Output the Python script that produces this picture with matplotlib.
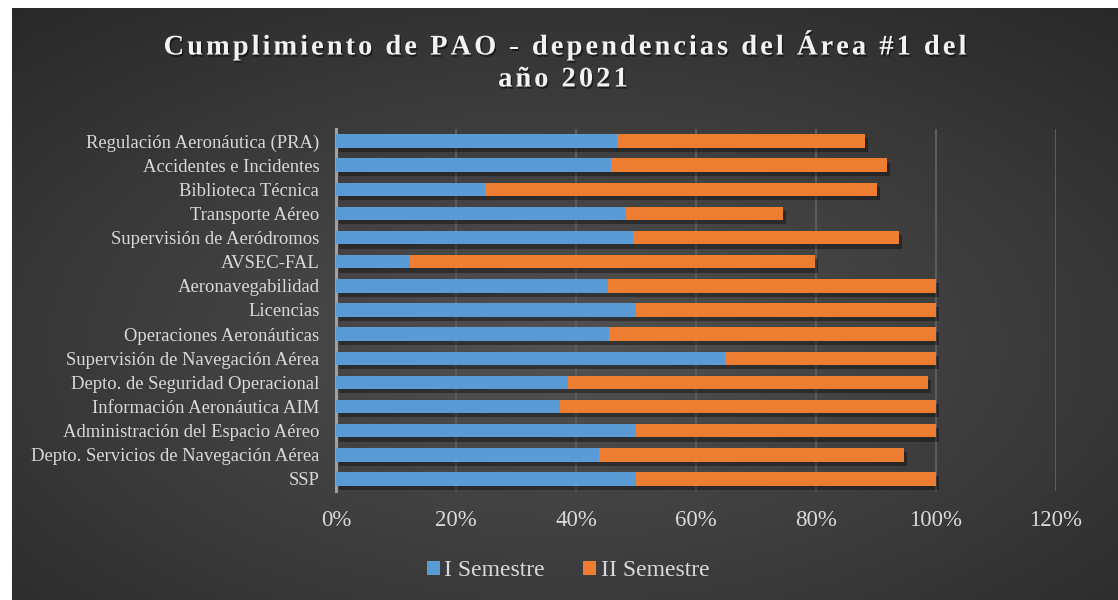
import numpy as np
import matplotlib.pyplot as plt
import matplotlib.patheffects as pe
from matplotlib.font_manager import FontProperties
from matplotlib.patches import Patch
from matplotlib.ticker import PercentFormatter

# categories from bottom to top
categories = [
    "SSP",
    "Depto. Servicios de Navegación Aérea",
    "Administración del Espacio Aéreo",
    "Información Aeronáutica AIM",
    "Depto. de Seguridad Operacional",
    "Supervisión de Navegación Aérea",
    "Operaciones Aeronáuticas",
    "Licencias",
    "Aeronavegabilidad",
    "AVSEC-FAL",
    "Supervisión de Aeródromos",
    "Transporte Aéreo",
    "Biblioteca Técnica",
    "Accidentes e Incidentes",
    "Regulación Aeronáutica (PRA)",
]
sem1 = [0.50, 0.439, 0.50, 0.373, 0.387, 0.648, 0.455, 0.50, 0.453, 0.124, 0.495, 0.484, 0.248, 0.458, 0.468]
sem2 = [0.50, 0.508, 0.50, 0.627, 0.600, 0.352, 0.545, 0.50, 0.547, 0.674, 0.443, 0.261, 0.654, 0.460, 0.414]
series_names = ["I Semestre", "II Semestre"]
colors = ["#5B9BD5", "#ED7D31"]
xticks = [0, 0.2, 0.4, 0.6, 0.8, 1.0, 1.2]
title_lines = ["Cumplimiento de PAO - dependencias del Área #1 del", "año 2021"]

serif = ["Liberation Serif", "DejaVu Serif"]
W, H = 1118, 600
fig = plt.figure(figsize=(W / 100, H / 100), dpi=100)
fig.patch.set_facecolor("white")


def spaced_text(fig, xc, yc, text, spacing, fp, **kw):
    """Draw text centred at (xc, yc) pixels with extra letter spacing (pixels)."""
    r = fig.canvas.get_renderer()
    widths = [r.get_text_width_height_descent(ch, fp, ismath=False)[0] for ch in text]
    total = sum(widths) + spacing * (len(text) - 1)
    x = xc - total / 2
    for ch, w in zip(text, widths):
        fig.text(x / W, 1 - yc / H, ch, ha="left", va="center", fontproperties=fp, **kw)
        x += w + spacing


# radial gradient background (chart area leaves a thin white strip top/left)
bg = fig.add_axes([12 / W, 0, 1 - 12 / W, 1 - 8 / H])
bg.set_axis_off()
yy, xx = np.mgrid[0:300, 0:560]
cx, cy = 280, 170
r = np.sqrt(((xx - cx) / 560) ** 2 + ((yy - cy) / 300) ** 2)
r = np.clip(r / 0.75, 0, 1)
shade = 0.32 - 0.16 * r
img = np.dstack([shade, shade, shade])
bg.imshow(img, aspect="auto", extent=[0, 1, 0, 1], interpolation="bilinear")
bg.set_xlim(0, 1)
bg.set_ylim(0, 1)

ax = fig.add_axes([336 / W, 1 - 491 / H, 720 / W, 362 / H])
ax.patch.set_alpha(0)

y = np.arange(len(categories))
shadow = [pe.SimplePatchShadow(offset=(2, -3), shadow_rgbFace="black", alpha=0.35), pe.Normal()]
b1 = ax.barh(y, sem1, height=0.56, color=colors[0], zorder=3)
b2 = ax.barh(y, sem2, left=sem1, height=0.56, color=colors[1], zorder=3)
for bar in list(b1) + list(b2):
    bar.set_path_effects(shadow)

ax.set_xlim(0, 1.2)
ax.set_ylim(-0.5, len(categories) - 0.5)
ax.set_xticks(xticks)
ax.xaxis.set_major_formatter(PercentFormatter(1.0, decimals=0))
ax.set_yticks(y)
ax.set_yticklabels(categories)
ax.grid(axis="x", color="#5c5c5c", linewidth=1.5, zorder=0)
for side in ["top", "right", "bottom"]:
    ax.spines[side].set_visible(False)
ax.spines["left"].set_color("#a0a0a0")
ax.spines["left"].set_linewidth(2.2)
ax.tick_params(axis="x", length=0, pad=14, labelsize=16.5, labelcolor="#d9d9d9")
ax.tick_params(axis="y", length=0, pad=12, labelsize=13.4, labelcolor="#d9d9d9")
for lab in ax.get_xticklabels() + ax.get_yticklabels():
    lab.set_family(serif)

title_fp = FontProperties(family=serif, weight="bold", size=20.5)
title_fx = [pe.withSimplePatchShadow(offset=(1, -1.5), shadow_rgbFace="black", alpha=0.5)]
spaced_text(fig, 565, 48, title_lines[0], 3.0, title_fp, color="#f2f2f2", path_effects=title_fx)
spaced_text(fig, 563, 80, title_lines[1], 3.0, title_fp, color="#f2f2f2", path_effects=title_fx)

handles = [Patch(facecolor=c, label=n) for c, n in zip(colors, series_names)]
leg = fig.legend(handles=handles, loc="center", bbox_to_anchor=(568 / W, 1 - 571 / H), ncol=2,
                 frameon=False, prop={"family": serif, "size": 17}, labelcolor="#d9d9d9",
                 handlelength=0.55, handleheight=0.55, handletextpad=0.2, columnspacing=1.6)

fig.savefig("out.png", dpi=100)
